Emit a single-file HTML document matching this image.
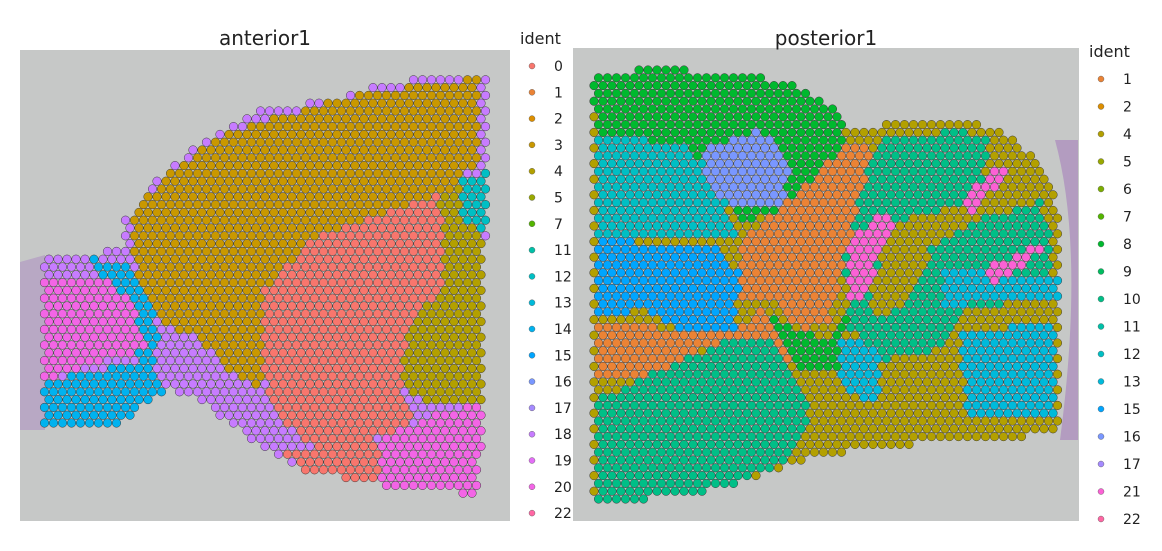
<!DOCTYPE html>
<html><head><meta charset="utf-8"><style>
body{margin:0;background:#fff;font-family:"Liberation Sans","DejaVu Sans",sans-serif}
svg text{font-family:"DejaVu Sans","Liberation Sans",sans-serif;fill:#222}
</style></head><body>
<svg id="s" width="1162" height="546">
<rect x="20" y="50" width="490" height="471" fill="#c6c8c7"/>
<rect x="573" y="48" width="506" height="473" fill="#c6c8c7"/>
<path d="M20,262 L45,255 L45,430 L20,430 Z" fill="#b8a8c4"/>
<path d="M1055,140 Q1085,250 1060,440 L1078,440 L1078,140 Z" fill="#b39cc0"/>
<text x="265" y="45" font-size="20" text-anchor="middle">anterior1</text>
<text x="826" y="45" font-size="20" text-anchor="middle">posterior1</text>
<g id="dots"></g><g id="leg"></g>
</svg>
<script>
const leftIdents=["0","1","2","3","4","5","7","11","12","13","14","15","16","17","18","19","20","22"];
const rightIdents=["1","2","4","5","6","7","8","9","10","11","12","13","15","16","17","21","22"];
const pal=["#F8766D","#EB8335","#DC8E00","#C99800","#B3A000","#99A800","#7CAE00","#53B400","#00B92E","#00BC5F","#00BF87","#00C0A8","#00BFC4","#00BADB","#00B2EF","#00A5FF","#7997FF","#A58AFF","#C77CFF","#E36EF6","#F365E6","#FC61D5","#FF67A4"];
const NS="http://www.w3.org/2000/svg";
function inPoly(x,y,p){let c=false;for(let i=0,j=p.length-1;i<p.length;j=i++){const[xi,yi]=p[i],[xj,yj]=p[j];if((yi>y)!=(yj>y)&&x<(xj-xi)*(y-yi)/(yj-yi)+xi)c=!c;}return c;}
const L=[
[18,[[42,258],[75,255],[120,250],[125,220],[150,185],[200,140],[260,110],[330,100],[380,85],[430,75],[490,72],[488,170],[482,330],[480,495],[380,485],[300,470],[250,440],[200,400],[165,390],[140,400],[120,425],[42,425]]],
[3,[[130,220],[160,180],[220,135],[300,110],[380,90],[480,78],[480,160],[440,200],[380,215],[300,260],[270,300],[262,390],[230,370],[200,340],[160,320],[140,290]]],
[0,[[265,290],[310,240],[380,215],[440,195],[460,210],[445,280],[410,330],[400,390],[420,420],[370,440],[320,450],[280,420],[265,380]]],
[4,[[440,200],[470,180],[485,175],[482,400],[420,400],[400,380],[410,330],[445,280]]],
[12,[[458,180],[486,172],[486,232],[462,225]]],
[20,[[380,440],[420,420],[482,400],[480,495],[380,485]]],
[0,[[280,450],[380,440],[380,485],[300,470]]],
[14,[[90,258],[125,262],[150,300],[160,340],[150,370],[120,330]]],
[20,[[42,275],[100,275],[130,300],[150,350],[100,360],[42,385]]],
[14,[[42,380],[150,360],[165,390],[120,425],[42,425]]]
];
const R=[
[4,[[592,75],[650,68],[730,72],[800,85],[840,110],[845,130],[880,125],[960,118],[1000,130],[1040,160],[1060,210],[1062,260],[1058,432],[1000,440],[900,445],[820,455],[780,470],[700,490],[640,500],[592,500]]],
[8,[[592,75],[650,68],[730,72],[800,85],[840,110],[845,140],[820,180],[780,215],[740,220],[720,190],[680,150],[595,135]]],
[12,[[595,135],[690,145],[720,190],[740,240],[595,240]]],
[16,[[700,150],[760,130],[790,160],[780,210],[740,210],[710,190]]],
[15,[[595,240],[720,245],[740,275],[735,330],[680,330],[640,310],[595,320]]],
[1,[[740,240],[790,200],[840,150],[870,140],[870,220],[840,280],[830,320],[800,330],[770,300],[740,300]]],
[1,[[595,320],[680,330],[735,330],[760,310],[800,330],[790,360],[700,350],[660,380],[595,380]]],
[10,[[595,400],[640,380],[680,360],[730,340],[770,340],[800,380],[810,420],[790,460],[720,490],[640,500],[595,500]]],
[8,[[760,310],[800,330],[830,340],[850,310],[840,370],[800,370]]],
[10,[[880,140],[960,130],[990,140],[980,200],[900,220],[880,260],[870,300],[880,320],[910,300],[930,250],[980,220],[1040,200],[1055,250],[1040,300],[960,310],[940,350],[880,360],[850,330],[845,260],[860,190]]],
[13,[[940,270],[1060,275],[1060,300],[945,305]]],
[13,[[960,330],[1056,325],[1056,420],[965,415]]],
[13,[[840,340],[880,345],[878,400],[842,395]]],
[21,[[850,240],[880,215],[895,222],[862,300],[850,298]]],
[21,[[960,200],[1000,165],[1010,172],[970,215]]],
[21,[[985,270],[1040,240],[1044,250],[992,285]]]
];
function fill(regs,x0,x1,y0,y1){
 const g=document.getElementById('dots');
 let row=0;
 for(let y=y0;y<y1;y+=7.8,row++){
  for(let x=x0+(row%2?4.5:0);x<x1;x+=9){
   let c=-1;for(const[r,p]of regs){if(inPoly(x,y,p))c=r;}
   if(c<0)continue;
   const e=document.createElementNS(NS,'circle');
   e.setAttribute('cx',x);e.setAttribute('cy',y);e.setAttribute('r',4.3);
   e.setAttribute('fill',pal[c]);e.setAttribute('stroke','#3a3a3a');e.setAttribute('stroke-width','0.5');
   
   
   g.appendChild(e);
  }
 }
}
fill(L,40,492,72,500);
fill(R,594,1066,70,502);
function legend(ids,x,y0,step){
 const g=document.getElementById('leg');
 const t=document.createElementNS(NS,'text');
 t.setAttribute('x',x-12);t.setAttribute('y',y0-22);t.setAttribute('font-size','16');t.textContent='ident';
 
 
 g.appendChild(t);
 ids.forEach((id,i)=>{
  const y=y0+i*step;
  const c=document.createElementNS(NS,'circle');
  c.setAttribute('cx',x);c.setAttribute('cy',y);c.setAttribute('r',3);
  c.setAttribute('fill',pal[+id]);c.setAttribute('stroke','#555');c.setAttribute('stroke-width','0.4');
  
  
  g.appendChild(c);
  const t=document.createElementNS(NS,'text');
  t.setAttribute('x',x+22);t.setAttribute('y',y+5);t.setAttribute('font-size','14');t.textContent=id;
  
  
  g.appendChild(t);
 });
}
legend(leftIdents,532,66,26.3);
legend(rightIdents,1101,79,27.5);
</script>
</body></html>
